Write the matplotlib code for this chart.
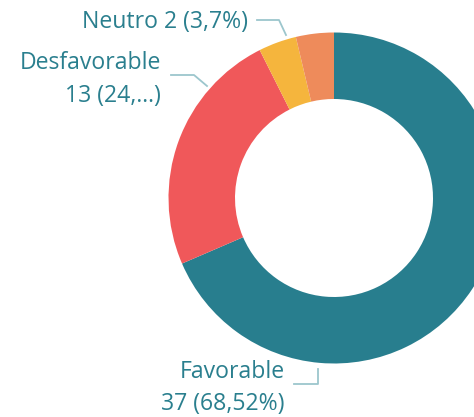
import matplotlib
matplotlib.use("Agg")
import matplotlib.pyplot as plt

# Data
categories = ["Favorable", "Desfavorable", "Neutro", "Otro"]
values = [37, 13, 2, 2]
colors = ["#287E8E", "#F0585A", "#F5B53D", "#EE8B5B"]
label_texts = ["Favorable\n37 (68,52%)", "Desfavorable\n13 (24,...)", "Neutro 2 (3,7%)"]

W, H = 474, 417
fig = plt.figure(figsize=(W / 100, H / 100), dpi=100)
ax = fig.add_axes([0, 0, 1, 1])

cx, cy = 334, H - 198
R = 165.5
width = 66.5

ax.pie(values, radius=R, center=(cx, cy), startangle=90, counterclock=False,
       colors=colors, wedgeprops=dict(width=width, linewidth=0))
ax.set_xlim(0, W)
ax.set_ylim(0, H)
ax.set_aspect("equal")
ax.axis("off")

txt_color = "#2A7F8E"
line_color = "#9CC6CD"
font = dict(family=["Open Sans", "DejaVu Sans"], fontsize=16.6, color=txt_color)

def Y(y):
    return H - y

# Neutro label
ax.text(248, Y(22), label_texts[2], ha="right", va="center", **font)
ax.plot([257, 279, 286], [Y(20), Y(20), Y(35)], color=line_color, lw=1.3)

# Desfavorable label
ax.text(161, Y(79), label_texts[1], ha="right", va="center", linespacing=1.5, **font)
ax.plot([171, 194, 207], [Y(75), Y(75), Y(86)], color=line_color, lw=1.3)

# Favorable label
ax.text(285, Y(388), label_texts[0], ha="right", va="center", linespacing=1.5, **font)
ax.plot([294, 318, 318], [Y(384), Y(384), Y(369)], color=line_color, lw=1.3)

fig.savefig("out.png", dpi=100)
